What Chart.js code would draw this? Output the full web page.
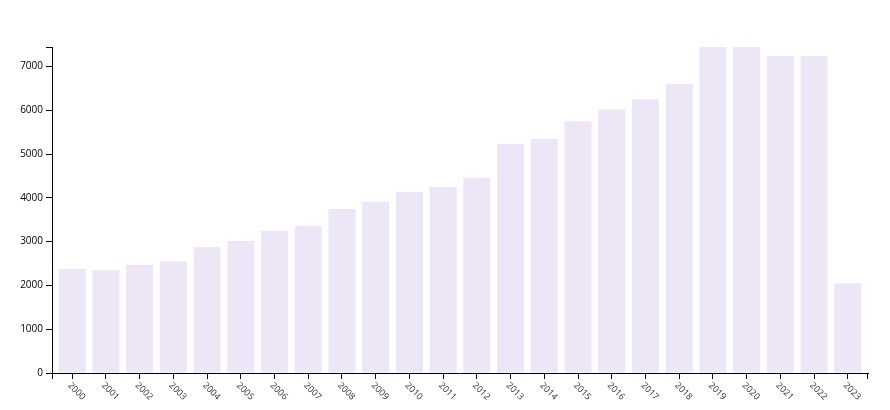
<!DOCTYPE html>
<html>
<head>
<meta charset="utf-8">
<script src="https://cdn.jsdelivr.net/npm/chart.js@4/dist/chart.umd.min.js"></script>
<style>
	body { margin: 0; background: #fff; }
	#wrap { width: 890px; height: 410px; }
</style>
</head>
<body>
<div id="wrap"><canvas id="chart" width="890" height="410"></canvas></div>
<script>
// data
var years = [2000,2001,2002,2003,2004,2005,2006,2007,2008,2009,2010,2011,
	2012,2013,2014,2015,2016,2017,2018,2019,2020,2021,2022,2023];
var counts = [2377,2348,2469,2544,2879,3016,3251,3365,3745,3912,4133,4247,
	4459,5227,5348,5751,6018,6253,6601,7445,7445,7240,7240,2052];
var yTicks = [0,1000,2000,3000,4000,5000,6000,7000];

var points = [];
for(var i=0;i<years.length;i++) {
	points.push({x: years[i], y: counts[i]});
}

var font = '"Open Sans", "Segoe UI", sans-serif';

// rotated year labels + the outer ticks of the axes
var axisExtras = {
	id: 'axisExtras',
	afterDraw: function(chart) {
		var ctx = chart.ctx;
		var x = chart.scales.x;
		var a = chart.chartArea;
		ctx.save();
		ctx.strokeStyle = '#000';
		ctx.lineWidth = 1;
		ctx.beginPath();
		ctx.moveTo(a.left - 6, Math.round(a.top) + 0.5);
		ctx.lineTo(a.left, Math.round(a.top) + 0.5);
		ctx.moveTo(Math.round(a.left) + 0.5, a.bottom);
		ctx.lineTo(Math.round(a.left) + 0.5, a.bottom + 6);
		ctx.moveTo(Math.round(a.right) - 0.5, a.bottom);
		ctx.lineTo(Math.round(a.right) - 0.5, a.bottom + 6);
		ctx.stroke();

		ctx.fillStyle = '#333';
		ctx.font = '9px ' + font;
		ctx.textAlign = 'left';
		ctx.textBaseline = 'middle';
		years.forEach(function(yr) {
			var px = x.getPixelForValue(yr);
			ctx.save();
			ctx.translate(px - 3, a.bottom + 11);
			ctx.rotate(Math.PI / 4);
			ctx.fillText(String(yr), 0, 0);
			ctx.restore();
		});
		ctx.restore();
	}
};

new Chart(document.getElementById('chart'), {
	type: 'bar',
	data: {
		datasets: [{
			data: points,
			backgroundColor: '#ece6f6',
			borderWidth: 0,
			categoryPercentage: 0.8,
			barPercentage: 1
		}]
	},
	options: {
		responsive: false,
		animation: false,
		layout: {padding: {top: 47, right: 22, bottom: 0, left: 0}},
		plugins: {legend: {display: false}, tooltip: {enabled: false}},
		scales: {
			x: {
				type: 'linear',
				offset: false,
				min: years[0] - 0.6,
				max: years[years.length - 1] + 0.6,
				afterBuildTicks: function(s) { s.ticks = years.map(function(v){ return {value: v}; }); },
				afterFit: function(s) { s.height = 37; },
				ticks: {display: false},
				grid: {offset: false, drawOnChartArea: false, drawTicks: true, tickLength: 6, color: '#000'},
				border: {display: true, color: '#000'}
			},
			y: {
				min: 0,
				max: 7445,
				afterBuildTicks: function(s) { s.ticks = yTicks.map(function(v){ return {value: v}; }); },
				afterFit: function(s) { s.width = 52; },
				ticks: {
					color: '#000', padding: 3, font: {size: 10, family: font},
					callback: function(v) { return String(v); }
				},
				grid: {drawOnChartArea: false, drawTicks: true, tickLength: 6, color: '#000'},
				border: {display: true, color: '#000'}
			}
		}
	},
	plugins: [axisExtras]
});
</script>
</body>
</html>
